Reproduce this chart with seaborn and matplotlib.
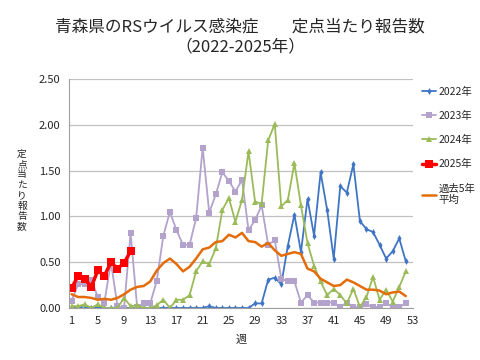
import matplotlib
matplotlib.use('Agg')
import matplotlib.pyplot as plt
import numpy as np
import pandas as pd
import seaborn as sns

weeks = list(range(1, 53))
y2022 = [0.00, 0.00, 0.02, 0.00, 0.00, 0.00, 0.00, 0.00, 0.00, 0.00,
         0.00, 0.00, 0.00, 0.00, 0.00, 0.00, 0.00, 0.00, 0.00, 0.00,
         0.00, 0.02, 0.00, 0.00, 0.00, 0.00, 0.00, 0.00, 0.05, 0.05,
         0.31, 0.33, 0.26, 0.68, 1.02, 0.61, 1.19, 0.79, 1.48, 1.07,
         0.54, 1.33, 1.26, 1.57, 0.95, 0.86, 0.83, 0.69, 0.54, 0.62,
         0.76, 0.51]
y2023 = [0.08, 0.26, 0.26, 0.31, 0.12, 0.06, 0.50, 0.02, 0.00, 0.82,
         0.01, 0.05, 0.05, 0.30, 0.79, 1.05, 0.85, 0.69, 0.69, 0.98,
         1.75, 1.04, 1.24, 1.48, 1.39, 1.27, 1.40, 0.85, 0.96, 1.12,
         0.69, 0.74, 0.32, 0.29, 0.29, 0.06, 0.14, 0.06, 0.06, 0.06,
         0.06, 0.01, 0.06, 0.01, 0.01, 0.04, 0.01, 0.01, 0.05, 0.01,
         0.01, 0.05]
y2024 = [0.02, 0.02, 0.04, 0.00, 0.04, 0.00, 0.00, 0.00, 0.11, 0.02,
         0.03, 0.00, 0.00, 0.03, 0.09, 0.00, 0.09, 0.09, 0.14, 0.40,
         0.51, 0.48, 0.65, 1.07, 1.20, 0.94, 1.18, 1.71, 1.16, 1.14,
         1.83, 2.01, 1.11, 1.18, 1.58, 1.12, 0.71, 0.46, 0.29, 0.14,
         0.21, 0.14, 0.05, 0.21, 0.01, 0.12, 0.34, 0.09, 0.20, 0.07,
         0.23, 0.40]
weeks2025 = list(range(1, 11))
y2025 = [0.22, 0.35, 0.32, 0.23, 0.41, 0.35, 0.50, 0.43, 0.49, 0.62]
avg5 = [0.15, 0.12, 0.12, 0.11, 0.09, 0.10, 0.09, 0.11, 0.15, 0.20,
        0.23, 0.24, 0.29, 0.41, 0.49, 0.54, 0.48, 0.40, 0.45, 0.54,
        0.64, 0.66, 0.72, 0.73, 0.80, 0.77, 0.82, 0.73, 0.72, 0.67,
        0.71, 0.63, 0.57, 0.59, 0.61, 0.59, 0.43, 0.40, 0.32, 0.28,
        0.24, 0.25, 0.31, 0.28, 0.24, 0.20, 0.20, 0.19, 0.15, 0.17,
        0.18, 0.13]

sns.set_style('white')
plt.rcParams['font.family'] = ['Noto Sans CJK JP', 'DejaVu Sans']

fig = plt.figure(figsize=(4.8, 3.6), dpi=100)
ax = fig.add_axes([69 / 480, 1 - 308 / 360, 344 / 480, 229 / 360])

df22 = pd.DataFrame({'week': weeks, 'v': y2022})
df23 = pd.DataFrame({'week': weeks, 'v': y2023})
df24 = pd.DataFrame({'week': weeks, 'v': y2024})
df25 = pd.DataFrame({'week': weeks2025, 'v': y2025})
dfav = pd.DataFrame({'week': weeks, 'v': avg5})

sns.lineplot(data=df22, x='week', y='v', ax=ax, color='#3F75C4', lw=1.3,
             marker='d', markersize=3.5, markeredgewidth=0, label='2022年')
sns.lineplot(data=df23, x='week', y='v', ax=ax, color='#B3A2CC', lw=1.3,
             marker='s', markersize=4, markeredgewidth=0, label='2023年')
sns.lineplot(data=df24, x='week', y='v', ax=ax, color='#9BBB59', lw=1.3,
             marker='^', markersize=4, markeredgewidth=0, label='2024年')
sns.lineplot(data=df25, x='week', y='v', ax=ax, color='#FF0000', lw=2.5,
             marker='s', markersize=6, markeredgewidth=0, label='2025年')
sns.lineplot(data=dfav, x='week', y='v', ax=ax, color='#E46C0A', lw=1.8,
             label='過去5年\n平均')

ax.set_xlim(0.6, 53.1)
ax.set_ylim(0, 2.5)
ax.set_xticks(range(1, 54, 4))
ax.set_yticks(np.arange(0, 2.51, 0.5))
ax.set_yticklabels([f'{t:.2f}' for t in np.arange(0, 2.51, 0.5)])
ax.tick_params(labelsize=8, length=3, color='#A0A0A0', pad=3)
ax.yaxis.grid(True, color='#C0C0C0', lw=0.9)
for s in ['top', 'right']:
    ax.spines[s].set_visible(False)
for s in ['left', 'bottom']:
    ax.spines[s].set_color('#A0A0A0')
ax.set_xlabel('週', fontsize=8, labelpad=6)
ax.set_ylabel('')

fig.text(22 / 480, 1 - 190 / 360, '\n'.join('定点当たり報告数'), fontsize=7,
         ha='center', va='center', linespacing=1.05)
fig.text(0.5, 1 - 27 / 360, '青森県のRSウイルス感染症　　定点当たり報告数',
         fontsize=12, ha='center', va='center')
fig.text(0.5, 1 - 47 / 360, '（2022-2025年）', fontsize=12,
         ha='center', va='center')

ax.legend(loc='upper left', bbox_to_anchor=(1.015, 0.985), frameon=False,
          fontsize=7.5, labelspacing=1.35, handlelength=1.3, handletextpad=0.25,
          borderaxespad=0)

fig.savefig('out.png', dpi=100)
